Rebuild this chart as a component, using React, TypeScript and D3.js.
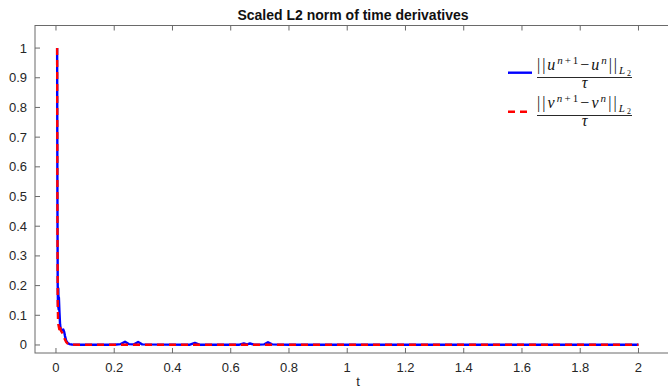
import React from "react";
import * as d3 from "d3";

const W = 668;
const H = 390;

// Time values and scaled L2 norms for u (blue)
const uT = [0.004, 0.005, 0.006, 0.007, 0.008, 0.009, 0.010, 0.012, 0.014, 0.016, 0.019, 0.022, 0.025, 0.028, 0.031, 0.035, 0.040, 0.046, 0.055, 0.08, 0.2, 0.222, 0.237, 0.25, 0.268, 0.282, 0.296, 0.46, 0.477, 0.492, 0.63, 0.645, 0.656, 0.666, 0.68, 0.715, 0.728, 0.742, 0.8, 1.2, 1.6, 2.0];
const uV = [1.0, 0.5, 0.2, 0.13, 0.19, 0.12, 0.16, 0.11, 0.07, 0.055, 0.05, 0.05, 0.052, 0.045, 0.03, 0.015, 0.007, 0.003, 0.0015, 0.001, 0.001, 0.003, 0.011, 0.003, 0.002, 0.01, 0.002, 0.001, 0.007, 0.001, 0.001, 0.005, 0.002, 0.005, 0.001, 0.002, 0.009, 0.002, 0.001, 0.001, 0.001, 0.001];

// Time values and scaled L2 norms for v (red dashed)
const vT = [0.004, 0.005, 0.006, 0.007, 0.008, 0.010, 0.012, 0.014, 0.016, 0.019, 0.022, 0.026, 0.030, 0.035, 0.040, 0.046, 0.055, 0.08, 0.5, 1.0, 1.5, 2.0];
const vV = [1.0, 0.45, 0.15, 0.09, 0.07, 0.06, 0.05, 0.065, 0.05, 0.045, 0.04, 0.03, 0.02, 0.01, 0.005, 0.002, 0.0012, 0.001, 0.001, 0.001, 0.001, 0.001];

const xTicks = [0, 0.2, 0.4, 0.6, 0.8, 1, 1.2, 1.4, 1.6, 1.8, 2];
const yTicks = [0, 0.1, 0.2, 0.3, 0.4, 0.5, 0.6, 0.7, 0.8, 0.9, 1];
const xDomain = [-0.072, 2.13];
const yDomain = [-0.027, 1.076];

const title = "Scaled L2 norm of time derivatives";
const xLabel = "t";

const sans = "'Liberation Sans', Arial, Helvetica, sans-serif";
const serif = "'Liberation Serif', 'Times New Roman', serif";

function Fraction({ y, v }: { y: number; v: string }) {
  const fs = 16;
  const ss = 11;
  return (
    <g fontFamily={serif} fill="#111">
      <text x={537} y={y} fontSize={fs} textLength={94} lengthAdjust="spacing">
        <tspan fontStyle="normal">||</tspan>
        <tspan fontStyle="italic">{v}</tspan>
        <tspan fontStyle="italic" fontSize={ss} dy={-6}>n</tspan>
        <tspan fontStyle="normal" fontSize={ss}>+1</tspan>
        <tspan fontStyle="normal" dy={6}>−</tspan>
        <tspan fontStyle="italic">{v}</tspan>
        <tspan fontStyle="italic" fontSize={ss} dy={-6}>n</tspan>
        <tspan fontStyle="normal" dy={6}>||</tspan>
        <tspan fontStyle="italic" fontSize={ss} dy={4}>L</tspan>
        <tspan fontStyle="normal" fontSize={8} dy={2}>2</tspan>
      </text>
      <line x1={537} x2={632} y1={y + 7.5} y2={y + 7.5} stroke="#111" strokeWidth={0.9} />
      <text x={584.5} y={y + 18} fontSize={fs} fontStyle="italic" textAnchor="middle">τ</text>
    </g>
  );
}

export default function App() {
  const x = d3.scaleLinear().domain(xDomain).range([35, 35 + (xDomain[1] - xDomain[0]) * 291.25]);
  const y = d3.scaleLinear().domain(yDomain).range([353, 25.5]);
  const [x0, x1] = x.range();
  const [y0, y1] = y.range();

  const uData = uT.map((t, i) => [t, uV[i]] as [number, number]);
  const vData = vT.map((t, i) => [t, vV[i]] as [number, number]);
  const line = d3
    .line<[number, number]>()
    .x((d) => x(d[0]))
    .y((d) => y(d[1]));

  const axisColor = "#6a6a6a";
  const tickLen = 5;

  return (
    <svg
      width={W}
      height={H}
      style={{ position: "absolute", left: 0, top: 0, background: "#fff" }}
    >
      <defs>
        <clipPath id="plotclip">
          <rect x={x0} y={y1} width={x1 - x0} height={y0 - y1} />
        </clipPath>
      </defs>
      <rect x={0} y={0} width={W} height={H} fill="#fff" />

      <text
        x={353}
        y={20}
        textAnchor="middle"
        fontFamily={sans}
        fontWeight="bold"
        fontSize={14}
        fill="#111"
      >
        {title}
      </text>

      <g clipPath="url(#plotclip)">
        <path d={line(uData) || ""} fill="none" stroke="#0000ff" strokeWidth={2.4} strokeLinejoin="round" />
        <path d={line(vData) || ""} fill="none" stroke="#ff0000" strokeWidth={2.4} strokeDasharray="7,5" />
      </g>

      <rect x={x0} y={y1} width={x1 - x0} height={y0 - y1} fill="none" stroke={axisColor} strokeWidth={1} />

      {xTicks.map((t) => (
        <g key={"xt" + t}>
          <line x1={x(t)} x2={x(t)} y1={y0} y2={y0 - tickLen} stroke={axisColor} />
          <line x1={x(t)} x2={x(t)} y1={y1} y2={y1 + tickLen} stroke={axisColor} />
          <text
            x={x(t)}
            y={372}
            textAnchor="middle"
            fontFamily={sans}
            fontSize={13}
            fill="#262626"
          >
            {String(t)}
          </text>
        </g>
      ))}

      {yTicks.map((t) => (
        <g key={"yt" + t}>
          <line x1={x0} x2={x0 + tickLen} y1={y(t)} y2={y(t)} stroke={axisColor} />
          <line x1={x1} x2={x1 - tickLen} y1={y(t)} y2={y(t)} stroke={axisColor} />
          <text
            x={27}
            y={y(t) + 4.5}
            textAnchor="end"
            fontFamily={sans}
            fontSize={13}
            fill="#262626"
          >
            {String(t)}
          </text>
        </g>
      ))}

      <text x={358} y={386} textAnchor="middle" fontFamily={sans} fontSize={13} fill="#262626">
        {xLabel}
      </text>

      <line x1={508} x2={532} y1={72.7} y2={72.7} stroke="#0000ff" strokeWidth={2.4} />
      <Fraction y={70} v="u" />
      <line x1={508} x2={532} y1={111.7} y2={111.7} stroke="#ff0000" strokeWidth={2.4} strokeDasharray="7,5" />
      <Fraction y={108} v="v" />
    </svg>
  );
}
